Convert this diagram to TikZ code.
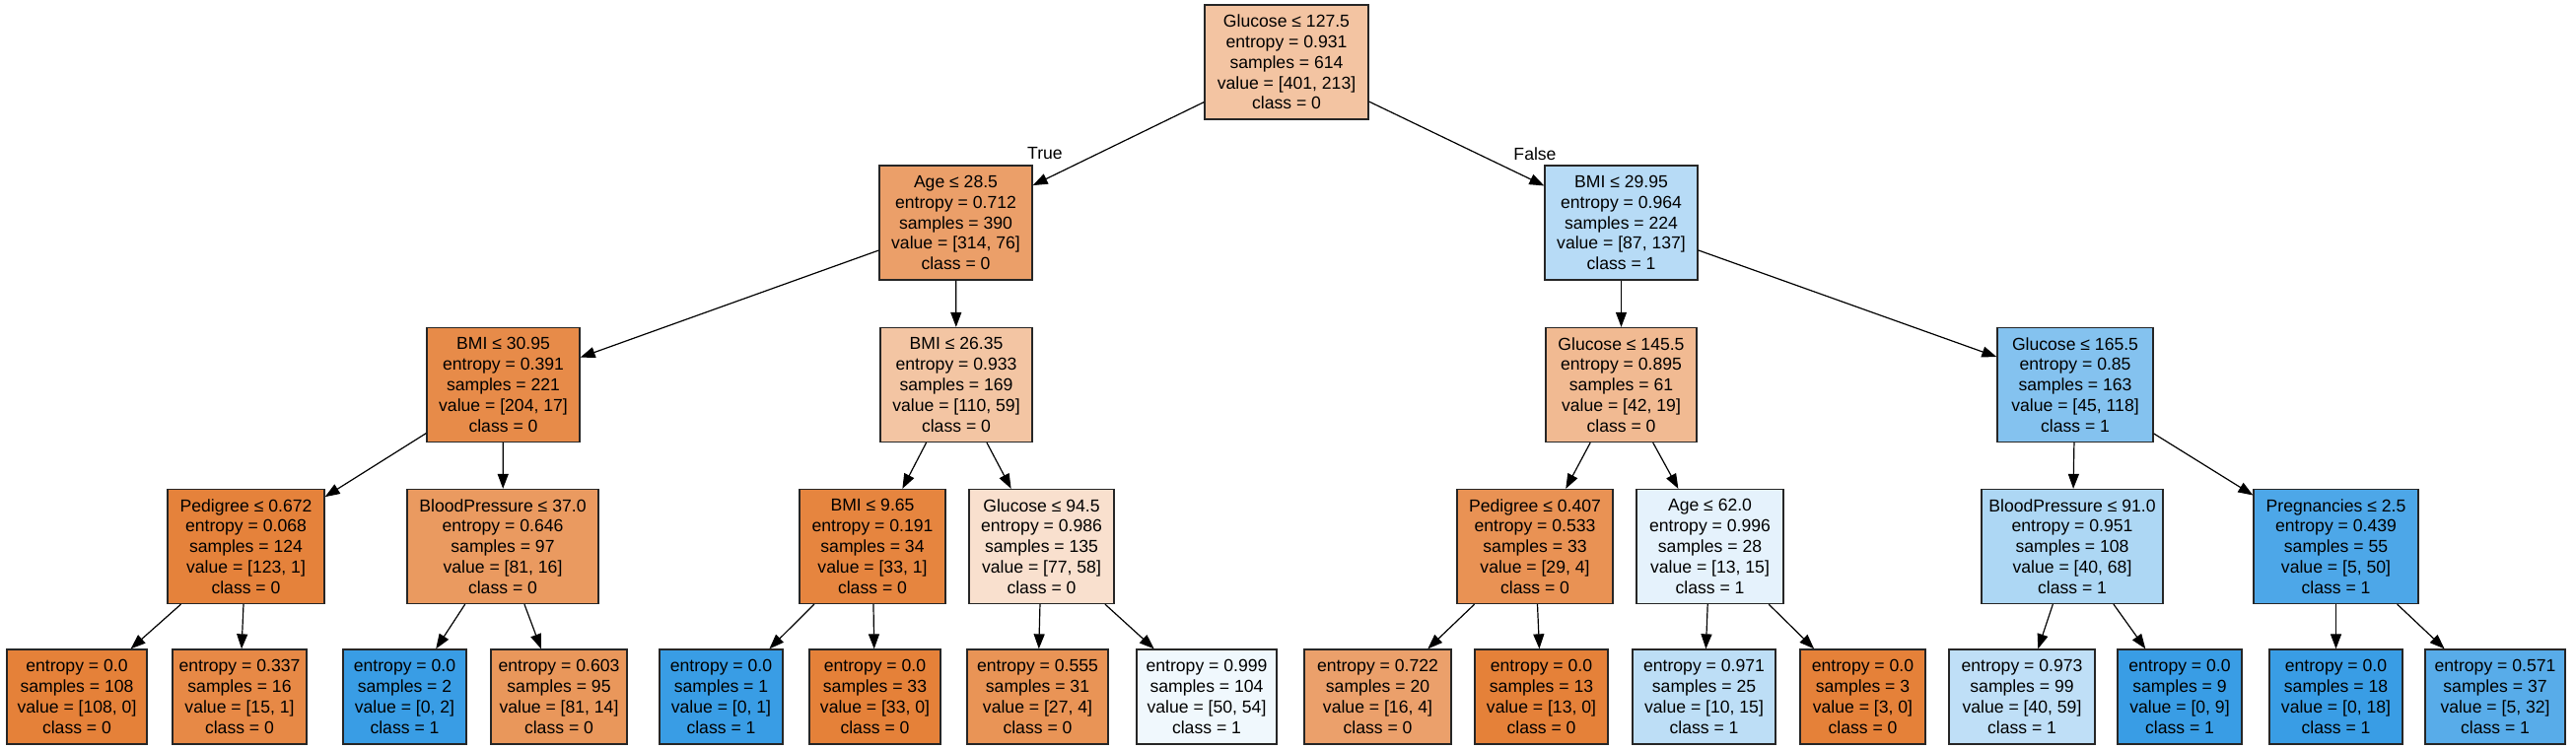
\documentclass[tikz,border=0pt]{standalone}
\usepackage{fontspec}
\setmainfont{Liberation Sans}
\usetikzlibrary{arrows.meta}
\definecolor{corange}{HTML}{E58139}
\definecolor{cblue}{HTML}{399DE5}
\tikzset{
  tbox/.style={draw=black!85, line width=1.3pt, rectangle, inner sep=0pt, align=center,
    font=\fontsize{17.6}{20.8}\selectfont},
  inner/.style={tbox, minimum height=116pt},
  leaf/.style={tbox, minimum height=96pt},
  o/.style={fill=corange!#1!white},
  b/.style={fill=cblue!#1!white},
  w/.style={minimum width=#1pt},
  edge/.style={draw=black, line width=1.2pt, -{Triangle[length=15pt,width=11pt]}},
  elab/.style={font=\fontsize{17.6}{20.8}\selectfont, inner sep=0pt}
}
\begin{document}
\begin{tikzpicture}[x=1pt,y=1pt]
\useasboundingbox (0,0) rectangle (2613,-760);
% level 0
\node[inner,o=46.9,w=166] (root) at (1305,-63) {Glucose ≤ 127.5\\entropy = 0.931\\samples = 614\\value = [401, 213]\\class = 0};
% level 1
\node[inner,o=75.8,w=155] (age) at (969.5,-226) {Age ≤ 28.5\\entropy = 0.712\\samples = 390\\value = [314, 76]\\class = 0};
\node[inner,b=36.5,w=155] (bmiA) at (1644.5,-226) {BMI ≤ 29.95\\entropy = 0.964\\samples = 224\\value = [87, 137]\\class = 1};
% level 2
\node[inner,o=91.7,w=155] (bmiB) at (510.5,-390.5) {BMI ≤ 30.95\\entropy = 0.391\\samples = 221\\value = [204, 17]\\class = 0};
\node[inner,o=46.4,w=154] (bmiC) at (970,-390.5) {BMI ≤ 26.35\\entropy = 0.933\\samples = 169\\value = [110, 59]\\class = 0};
\node[inner,o=54.8,w=153] (gluA) at (1644.5,-390.5) {Glucose ≤ 145.5\\entropy = 0.895\\samples = 61\\value = [42, 19]\\class = 0};
\node[inner,b=61.9,w=158] (gluB) at (2105,-390.5) {Glucose ≤ 165.5\\entropy = 0.85\\samples = 163\\value = [45, 118]\\class = 1};
% level 3
\node[inner,o=99.2,w=159] (pedA) at (249.5,-554.5) {Pedigree ≤ 0.672\\entropy = 0.068\\samples = 124\\value = [123, 1]\\class = 0};
\node[inner,o=80.2,w=194] (bpA) at (510,-554.5) {BloodPressure ≤ 37.0\\entropy = 0.646\\samples = 97\\value = [81, 16]\\class = 0};
\node[inner,o=97,w=148] (bmiD) at (885,-554.5) {BMI ≤ 9.65\\entropy = 0.191\\samples = 34\\value = [33, 1]\\class = 0};
\node[inner,o=24.7,w=147] (gluC) at (1056.5,-554.5) {Glucose ≤ 94.5\\entropy = 0.986\\samples = 135\\value = [77, 58]\\class = 0};
\node[inner,o=86.2,w=158] (pedB) at (1557,-554.5) {Pedigree ≤ 0.407\\entropy = 0.533\\samples = 33\\value = [29, 4]\\class = 0};
\node[inner,b=13.3,w=149] (ageB) at (1734.5,-554.5) {Age ≤ 62.0\\entropy = 0.996\\samples = 28\\value = [13, 15]\\class = 1};
\node[inner,b=41.2,w=184] (bpB) at (2102,-554.5) {BloodPressure ≤ 91.0\\entropy = 0.951\\samples = 108\\value = [40, 68]\\class = 1};
\node[inner,b=90,w=167] (preg) at (2369.5,-554.5) {Pregnancies ≤ 2.5\\entropy = 0.439\\samples = 55\\value = [5, 50]\\class = 1};
% level 4
\node[leaf,o=100,w=142] (l1) at (78,-707) {entropy = 0.0\\samples = 108\\value = [108, 0]\\class = 0};
\node[leaf,o=93.3,w=136] (l2) at (243,-707) {entropy = 0.337\\samples = 16\\value = [15, 1]\\class = 0};
\node[leaf,b=100,w=125] (l3) at (410.5,-707) {entropy = 0.0\\samples = 2\\value = [0, 2]\\class = 1};
\node[leaf,o=82.7,w=138] (l4) at (567,-707) {entropy = 0.603\\samples = 95\\value = [81, 14]\\class = 0};
\node[leaf,b=100,w=125] (l5) at (731.5,-707) {entropy = 0.0\\samples = 1\\value = [0, 1]\\class = 1};
\node[leaf,o=100,w=133] (l6) at (887.5,-707) {entropy = 0.0\\samples = 33\\value = [33, 0]\\class = 0};
\node[leaf,o=85.2,w=143] (l7) at (1052.5,-707) {entropy = 0.555\\samples = 31\\value = [27, 4]\\class = 0};
\node[leaf,b=7.4,w=142] (l8) at (1224,-707) {entropy = 0.999\\samples = 104\\value = [50, 54]\\class = 1};
\node[leaf,o=75,w=149] (l9) at (1397.5,-707) {entropy = 0.722\\samples = 20\\value = [16, 4]\\class = 0};
\node[leaf,o=100,w=135] (l10) at (1563.5,-707) {entropy = 0.0\\samples = 13\\value = [13, 0]\\class = 0};
\node[leaf,b=33.3,w=145] (l11) at (1728.5,-707) {entropy = 0.971\\samples = 25\\value = [10, 15]\\class = 1};
\node[leaf,o=100,w=127] (l12) at (1889.5,-707) {entropy = 0.0\\samples = 3\\value = [3, 0]\\class = 0};
\node[leaf,b=32.2,w=148] (l13) at (2051,-707) {entropy = 0.973\\samples = 99\\value = [40, 59]\\class = 1};
\node[leaf,b=100,w=126] (l14) at (2211,-707) {entropy = 0.0\\samples = 9\\value = [0, 9]\\class = 1};
\node[leaf,b=100,w=135] (l15) at (2369.5,-707) {entropy = 0.0\\samples = 18\\value = [0, 18]\\class = 1};
\node[leaf,b=84.4,w=142] (l16) at (2531,-707) {entropy = 0.571\\samples = 37\\value = [5, 32]\\class = 1};
% edges
\draw[edge] (root) -- (age);
\draw[edge] (root) -- (bmiA);
\draw[edge] (age) -- (bmiB);
\draw[edge] (age) -- (bmiC);
\draw[edge] (bmiA) -- (gluA);
\draw[edge] (bmiA) -- (gluB);
\draw[edge] (bmiB) -- (pedA);
\draw[edge] (bmiB) -- (bpA);
\draw[edge] (bmiC) -- (bmiD);
\draw[edge] (bmiC) -- (gluC);
\draw[edge] (gluA) -- (pedB);
\draw[edge] (gluA) -- (ageB);
\draw[edge] (gluB) -- (bpB);
\draw[edge] (gluB) -- (preg);
\draw[edge] (pedA) -- (l1);
\draw[edge] (pedA) -- (l2);
\draw[edge] (bpA) -- (l3);
\draw[edge] (bpA) -- (l4);
\draw[edge] (bmiD) -- (l5);
\draw[edge] (bmiD) -- (l6);
\draw[edge] (gluC) -- (l7);
\draw[edge] (gluC) -- (l8);
\draw[edge] (pedB) -- (l9);
\draw[edge] (pedB) -- (l10);
\draw[edge] (ageB) -- (l11);
\draw[edge] (ageB) -- (l12);
\draw[edge] (bpB) -- (l13);
\draw[edge] (bpB) -- (l14);
\draw[edge] (preg) -- (l15);
\draw[edge] (preg) -- (l16);
% edge labels
\node[elab] (tlab) at (1060,-156) {True};
\node[elab] (flab) at (1557,-156) {False};
\end{tikzpicture}
\end{document}
